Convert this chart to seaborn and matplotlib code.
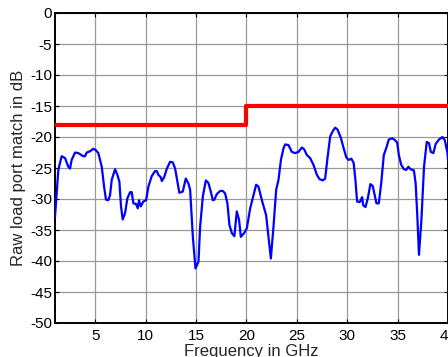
import numpy as np
import pandas as pd
import matplotlib
matplotlib.use("Agg")
import matplotlib.pyplot as plt
import seaborn as sns

freq = [1.0, 1.33, 1.66, 2.0, 2.32, 2.49, 2.65, 2.99, 3.32, 3.8, 3.98, 4.15, 4.48, 4.8, 5.04, 5.3,
        5.64, 5.87, 6.06, 6.29, 6.46, 6.63, 6.96, 7.19, 7.39, 7.55, 7.72, 7.95, 8.18, 8.45, 8.61,
        8.78, 9.04, 9.21, 9.34, 9.51, 9.77, 10.04, 10.27, 10.6, 10.93, 11.1, 11.26, 11.5, 11.6,
        11.83, 12.1, 12.42, 12.69, 12.92, 13.15, 13.34, 13.68, 13.98, 14.24, 14.41, 14.68, 14.94,
        15.24, 15.4, 15.67, 15.97, 16.22, 16.46, 16.66, 16.82, 17.06, 17.39, 17.65, 17.88, 18.11,
        18.31, 18.55, 18.8, 19.04, 19.27, 19.44, 19.77, 20.04, 20.37, 20.69, 20.96, 21.19, 21.53,
        21.95, 22.18, 22.42, 22.68, 22.95, 23.18, 23.42, 23.68, 23.84, 24.17, 24.5, 24.83, 25.16,
        25.5, 25.73, 25.99, 26.32, 26.65, 26.99, 27.25, 27.58, 27.81, 28.04, 28.31, 28.58, 28.81,
        29.04, 29.38, 29.64, 29.91, 30.14, 30.41, 30.64, 30.81, 30.98, 31.24, 31.48, 31.58, 31.81,
        32.04, 32.3, 32.53, 32.73, 32.9, 33.13, 33.37, 33.63, 33.87, 34.13, 34.47, 34.73, 34.96,
        35.12, 35.36, 35.63, 35.86, 36.06, 36.29, 36.62, 36.79, 36.96, 37.12, 37.36, 37.62, 37.89,
        38.12, 38.29, 38.55, 38.78, 39.11, 39.45, 39.68, 39.95, 40.0]
match_db = [-32.9, -25.3, -23.1, -23.4, -24.8, -25.1, -23.7, -22.5, -22.6, -23.1, -23.1, -22.5, -22.3,
            -21.9, -22.1, -22.6, -24.8, -28.0, -30.1, -30.2, -29.4, -26.9, -25.2, -26.1, -27.2,
            -31.2, -33.3, -32.3, -29.9, -28.9, -28.9, -30.7, -30.8, -31.5, -30.2, -31.2, -30.4,
            -30.2, -28.0, -26.3, -25.5, -25.5, -26.1, -26.5, -27.1, -26.5, -25.1, -24.0, -24.1,
            -25.1, -27.2, -29.0, -28.8, -26.7, -27.5, -28.5, -36.1, -41.2, -40.1, -34.5, -29.6,
            -27.0, -27.4, -28.8, -30.2, -30.1, -29.2, -28.7, -28.7, -29.1, -30.7, -34.2, -35.5,
            -36.0, -32.0, -33.4, -36.1, -35.5, -34.7, -31.5, -29.4, -27.7, -28.0, -30.2, -32.6,
            -36.1, -39.6, -34.5, -28.5, -26.9, -23.7, -21.8, -21.2, -21.3, -22.4, -22.6, -22.4,
            -21.7, -22.0, -22.9, -23.4, -24.5, -26.1, -26.8, -27.0, -26.7, -23.4, -19.9, -19.0,
            -18.5, -18.8, -20.2, -21.8, -23.3, -23.7, -23.5, -24.2, -26.9, -30.4, -30.5, -29.7,
            -31.0, -31.3, -29.9, -27.6, -27.9, -29.4, -30.7, -30.7, -27.5, -22.9, -21.8, -20.4,
            -20.2, -20.5, -20.9, -22.9, -24.5, -25.2, -25.3, -24.8, -25.2, -25.4, -27.5, -32.9,
            -39.0, -33.4, -24.8, -20.8, -21.0, -22.4, -22.6, -21.1, -20.4, -20.0, -20.5, -22.6,
            -23.7]

limit_freq = [1, 20, 20, 40]
limit_db = [-18, -18, -15, -15]

x_ticks = [5, 10, 15, 20, 25, 30, 35, 40]
y_ticks = [0, -5, -10, -15, -20, -25, -30, -35, -40, -45, -50]

sns.set_theme(style="white")
plt.rcParams['font.family'] = ['Liberation Sans', 'DejaVu Sans']

fig = plt.figure(figsize=(4.48, 3.57), dpi=100)
ax = fig.add_axes([55 / 448, 34 / 357, 393 / 448, 310 / 357])

df = pd.DataFrame({"f": freq, "db": match_db})
lim = pd.DataFrame({"f": limit_freq, "db": limit_db})

sns.lineplot(data=df, x="f", y="db", ax=ax, color="#0000ff", linewidth=1.6,
             sort=False, estimator=None, zorder=3)
sns.lineplot(data=lim, x="f", y="db", ax=ax, color="#ff0000", linewidth=3.0,
             sort=False, estimator=None, zorder=4)

ax.set_xlim(1, 40)
ax.set_ylim(-50, 0)
ax.set_xticks(x_ticks)
ax.set_yticks(y_ticks)
ax.set_xticklabels([str(t) for t in x_ticks])
ax.set_yticklabels([str(t) for t in y_ticks])
ax.grid(True, color="#999999", linewidth=0.9)
ax.set_axisbelow(True)
ax.tick_params(direction="in", length=3, width=0.8, colors="black", labelsize=11,
               top=True, right=True, bottom=True, left=True, pad=2)
ax.tick_params(axis="x", pad=4)
for s in ax.spines.values():
    s.set_color("black")
    s.set_linewidth(1.4)

ax.set_xlabel("Frequency in GHz", fontsize=12, labelpad=1)
ax.set_ylabel("Raw load port match in dB", fontsize=12, labelpad=3)

fig.savefig("out.png", dpi=100)
